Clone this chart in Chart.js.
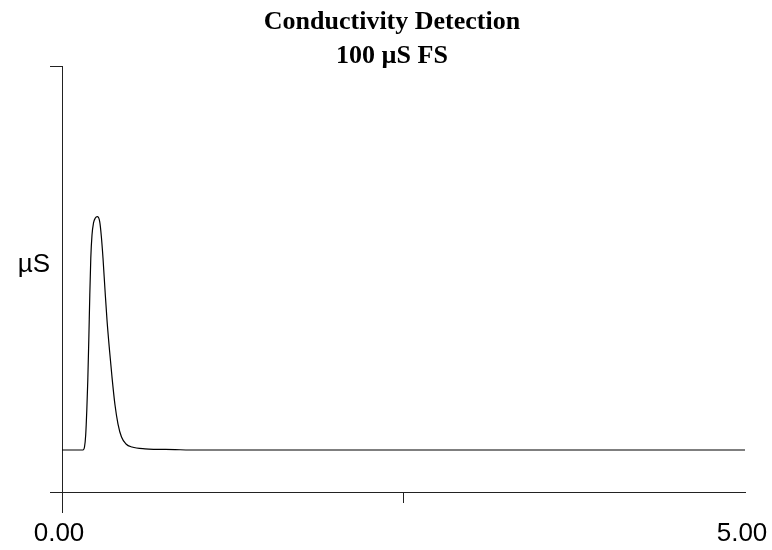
<!DOCTYPE html>
<html>
<head>
<meta charset="utf-8">
<script src="https://cdn.jsdelivr.net/npm/chart.js@4"></script>
<style>
  html, body { margin: 0; padding: 0; background: #fff; }
  canvas { display: block; }
</style>
</head>
<body>
<canvas id="c" width="772" height="550"></canvas>
<script>
// ---- data ----
const titleLine1 = 'Conductivity Detection';
const titleLine2 = '100 µS FS';
const yAxisLabel = 'µS';

// retention time (min)
const timeMin = [0, 0.1537, 0.1647, 0.1735, 0.1816, 0.1889, 0.1962, 0.2035, 0.2108, 0.2196,
                 0.2306, 0.2438, 0.2584, 0.2760, 0.2877, 0.3001, 0.3148, 0.3294, 0.3477,
                 0.3660, 0.3880, 0.4100, 0.4356, 0.4685, 0.5124, 0.6076, 0.8272, 0.9370, 5.0];
// conductivity (µS, full scale 100)
const conductivity = [9.86, 9.86, 10.56, 13.38, 19.25, 26.29, 35.68, 46.24, 54.93, 60.33,
                      63.15, 64.32, 64.62, 63.45, 60.09, 54.93, 47.42, 40.38, 33.33,
                      26.99, 20.42, 15.96, 12.91, 11.27, 10.56, 10.14, 9.95, 9.86, 9.86];

const xTickValues = [0, 2.5, 5];
const xTickLabels = ['0.00', '', '5.00'];
const yMin = 0, yMax = 100;
const yTickValues = [0, 53.3, 100];
const yTickLabels = ['', yAxisLabel, ''];

// ---- chart ----
const axisColor = '#222';
const points = timeMin.map((t, i) => ({ x: t, y: conductivity[i] }));

const extendYAxis = {
  id: 'extendYAxis',
  afterDraw(chart) {
    const xs = chart.scales.x;
    const ctx = chart.ctx;
    const px = Math.round(xs.getPixelForValue(0)) + 0.5;
    const bottom = chart.chartArea.bottom;
    ctx.save();
    ctx.strokeStyle = axisColor;
    ctx.lineWidth = 1;
    ctx.beginPath();
    ctx.moveTo(px, bottom);
    ctx.lineTo(px, bottom + 21);
    ctx.stroke();
    ctx.restore();
  }
};

new Chart(document.getElementById('c'), {
  type: 'scatter',
  data: {
    datasets: [{
      data: points,
      showLine: true,
      borderColor: '#000',
      borderWidth: 1.2,
      pointRadius: 0,
      fill: false,
      cubicInterpolationMode: 'monotone'
    }]
  },
  options: {
    responsive: false,
    animation: false,
    layout: { padding: { left: 12, right: 0, top: 0, bottom: 0 } },
    plugins: {
      legend: { display: false },
      tooltip: { enabled: false },
      title: {
        display: true,
        text: titleLine1,
        color: '#000',
        font: { family: 'Liberation Serif', weight: 'bold', size: 26, lineHeight: '30px' },
        padding: { top: 7, bottom: 0 }
      },
      subtitle: {
        display: true,
        text: titleLine2,
        color: '#000',
        font: { family: 'Liberation Serif', weight: 'bold', size: 26, lineHeight: '20px' },
        padding: { top: 9, bottom: 0 }
      }
    },
    scales: {
      x: {
        type: 'linear',
        min: 0,
        max: 5,
        afterBuildTicks: s => { s.ticks = xTickValues.map(v => ({ value: v })); },
        afterFit: s => { s.height = 58; s.paddingRight = 27; s.paddingLeft = 0; },
        border: { display: true, color: axisColor, width: 1 },
        grid: {
          drawOnChartArea: false,
          drawTicks: true,
          tickLength: 11,
          tickColor: ctx => (ctx.tick && ctx.tick.value === 5) ? 'rgba(0,0,0,0)' : axisColor
        },
        ticks: {
          autoSkip: false,
          maxRotation: 0,
          padding: 15,
          labelOffset: -3,
          color: '#000',
          font: { family: 'Liberation Sans', size: 26 },
          callback: (v, i) => xTickLabels[i]
        }
      },
      y: {
        type: 'linear',
        min: yMin,
        max: yMax,
        afterBuildTicks: s => { s.ticks = yTickValues.map(v => ({ value: v })); },
        afterFit: s => { s.width = 50; },
        border: { display: true, color: axisColor, width: 1 },
        grid: {
          drawOnChartArea: false,
          drawTicks: true,
          tickLength: 12,
          tickColor: ctx => (ctx.tick && ctx.tick.value === 53.3) ? 'rgba(0,0,0,0)' : axisColor
        },
        ticks: {
          autoSkip: false,
          padding: 0,
          color: '#000',
          font: { family: 'Liberation Sans', size: 26 },
          callback: (v, i) => yTickLabels[i]
        }
      }
    }
  },
  plugins: [extendYAxis]
});
</script>
</body>
</html>
